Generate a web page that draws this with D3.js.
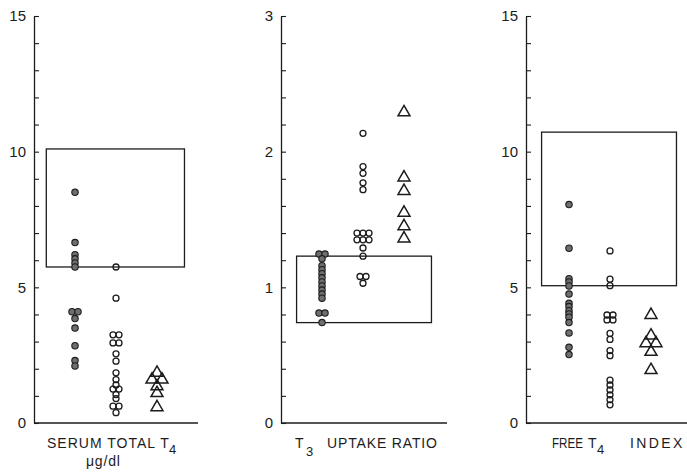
<!DOCTYPE html>
<html><head><meta charset="utf-8">
<script src="https://cdn.jsdelivr.net/npm/d3@7"></script>
<style>body{margin:0;background:#fff}svg{display:block}</style>
</head><body><svg id="c" width="687" height="474"></svg>
<script>
// ---- data ----
const t4Filled = [8.5, 6.65, 6.2, 6.05, 5.9, 5.75, 4.1, 4.1, 3.85, 3.5, 2.85, 2.3, 2.1];
const t4Open = [5.75, 4.6, 3.25, 3.25, 2.95, 2.95, 2.55, 2.28, 1.85, 1.6, 1.4, 1.25, 1.25, 1.05, 0.9, 0.62, 0.62, 0.38];
const t4Tri = [1.85, 1.6, 1.6, 1.35, 1.1, 0.58];
const t3Filled = [1.245, 1.245, 1.21, 1.16, 1.13, 1.10, 1.07, 1.04, 1.01, 0.98, 0.95, 0.92, 0.81, 0.81, 0.74];
const t3Open = [2.135, 1.89, 1.84, 1.77, 1.72, 1.40, 1.40, 1.40, 1.35, 1.35, 1.35, 1.29, 1.23, 1.08, 1.08, 1.03];
const t3Tri = [2.29, 1.81, 1.71, 1.55, 1.45, 1.36];
const ftiFilled = [8.05, 6.44, 5.32, 5.2, 5.05, 4.75, 4.41, 4.29, 4.14, 4.02, 3.9, 3.7, 3.32, 2.79, 2.52];
const ftiOpen = [6.34, 5.3, 5.06, 3.98, 3.98, 3.8, 3.8, 3.3, 3.08, 2.67, 2.48, 1.58, 1.4, 1.22, 1.04, 0.86, 0.67];
const ftiTri = [3.98, 3.22, 2.94, 2.94, 2.62, 1.95];

const normalT4 = [5.75, 10.1];
const normalT3U = [0.74, 1.23];
const normalFTI = [5.06, 10.72];

const yMaxes = [15, 3, 15];
const tickLabelsT4 = [0, 5, 10, 15];
const tickLabelsT3U = [0, 1, 2, 3];
const tickLabelsFTI = [0, 5, 10, 15];

// ---- layout ----
const yBottom = 423, yTop = 16;
const panelLeft = [34, 281, 526];
const panelWidth = 164;
const colShift = [0, 0, 2];
const ink = "#1c1c1c";
const lf = "Liberation Sans, Arial, sans-serif";

const panels = [
  {groups: [t4Filled, t4Open, t4Tri], normal: normalT4, max: yMaxes[0], labels: tickLabelsT4, axisEnd: 198, box: [0.3, 3.67]},
  {groups: [t3Filled, t3Open, t3Tri], normal: normalT3U, max: yMaxes[1], labels: tickLabelsT3U, axisEnd: 447, box: [0.38, 3.67]},
  {groups: [ftiFilled, ftiOpen, ftiTri], normal: normalFTI, max: yMaxes[2], labels: tickLabelsFTI, axisEnd: 687, box: [0.38, 3.67]}
];

const svg = d3.select("#c");

function dodge(values, spacing) {
  const counts = new Map();
  values.forEach(v => counts.set(v, (counts.get(v) || 0) + 1));
  const seen = new Map();
  return values.map(v => {
    const n = counts.get(v), i = seen.get(v) || 0;
    seen.set(v, i + 1);
    return {v, off: (i - (n - 1) / 2) * spacing};
  });
}

panels.forEach((p, pi) => {
  const left = panelLeft[pi];
  const y = d3.scaleLinear([0, p.max], [yBottom, yTop]);
  const x = d3.scaleLinear([0, 4], [left, left + panelWidth]);
  const cx = c => x(c) + colShift[pi];
  const g = svg.append("g");

  // normal range box
  g.append("rect")
    .attr("x", x(p.box[0])).attr("width", x(p.box[1]) - x(p.box[0]))
    .attr("y", y(p.normal[1])).attr("height", y(p.normal[0]) - y(p.normal[1]))
    .attr("fill", "none").attr("stroke", ink).attr("stroke-width", 1.3);

  // x baseline
  g.append("line").attr("x1", left).attr("x2", p.axisEnd)
    .attr("y1", yBottom).attr("y2", yBottom)
    .attr("stroke", ink).attr("stroke-width", 1.3);

  // y axis
  const tv = d3.range(0, 16).map(i => i * p.max / 15);
  const ax = d3.axisLeft(y).tickValues(tv).tickSizeInner(-5).tickSizeOuter(0).tickPadding(8)
    .tickFormat(v => {
      const m = p.labels.find(l => Math.abs(l - v) < 1e-6);
      return m === undefined ? "" : String(m);
    });
  const ag = g.append("g").attr("transform", `translate(${left},0)`).call(ax);
  ag.select(".domain").attr("stroke", ink).attr("stroke-width", 1.3);
  ag.selectAll(".tick line").attr("stroke", ink).attr("stroke-width", 1.1);
  ag.selectAll(".tick text").attr("font-family", lf)
    .attr("font-size", 15).attr("fill", ink);

  // filled circles
  g.selectAll(".f").data(dodge(p.groups[0], 6)).join("circle")
    .attr("cx", d => cx(1) + d.off).attr("cy", d => y(d.v)).attr("r", 3.2)
    .attr("fill", "#6e6e6e").attr("stroke", ink).attr("stroke-width", 1.1);
  // open circles
  g.selectAll(".o").data(dodge(p.groups[1], 6)).join("circle")
    .attr("cx", d => cx(2) + d.off).attr("cy", d => y(d.v)).attr("r", 3)
    .attr("fill", "none").attr("stroke", ink).attr("stroke-width", 1.3);
  // triangles
  const tri = d3.symbol(d3.symbolTriangle, 62);
  g.selectAll(".t").data(dodge(p.groups[2], 10)).join("path")
    .attr("d", tri)
    .attr("transform", d => `translate(${cx(3) + d.off},${y(d.v)})`)
    .attr("fill", "none").attr("stroke", ink).attr("stroke-width", 1.5);
});

// ---- category labels ----
function label(parts) {
  const t = svg.append("text").attr("font-family", lf).attr("font-size", 14).attr("fill", ink);
  parts.forEach(pt => {
    const s = t.append("tspan").text(pt.s).attr("x", pt.x).attr("y", pt.y);
    if (pt.ls !== undefined) s.attr("letter-spacing", pt.ls);
    if (pt.size) s.attr("font-size", pt.size);
    if (pt.len) s.attr("textLength", pt.len).attr("lengthAdjust", "spacingAndGlyphs");
  });
}
label([{s: "SERUM TOTAL T", x: 47, y: 448, ls: 1.0},
       {s: "4", x: 169, y: 454, size: 13}]);
label([{s: "μg/dl", x: 86, y: 466, ls: 0.8}]);
label([{s: "T", x: 295, y: 448},
       {s: "3", x: 306, y: 456, size: 13},
       {s: "UPTAKE RATIO", x: 327, y: 448, ls: 0.85}]);
label([{s: "FREE", x: 552, y: 448, len: 31},
       {s: "T", x: 588, y: 448},
       {s: "4", x: 597, y: 454, size: 13},
       {s: "INDEX", x: 630, y: 448, ls: 2.4}]);
</script>
</body></html>
